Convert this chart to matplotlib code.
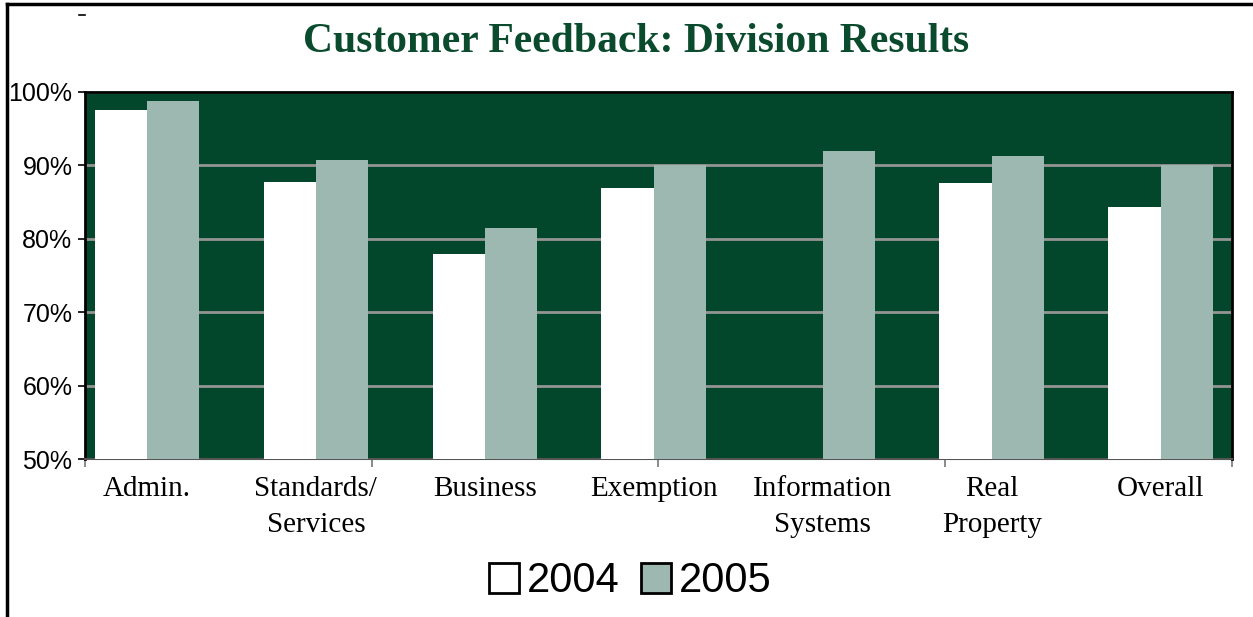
import matplotlib.pyplot as plt
from matplotlib.lines import Line2D
import numpy as np

# Data
categories = ["Admin.", "Standards/\nServices", "Business", "Exemption",
              "Information\nSystems", "Real\nProperty", "Overall"]
values_2004 = [97.6, 87.7, 77.9, 86.9, np.nan, 87.6, 84.3]
values_2005 = [98.8, 90.7, 81.5, 90.1, 92.0, 91.3, 90.0]
y_ticks = [50, 60, 70, 80, 90, 100]

# Colours
bg_green = "#02472c"
title_green = "#0a4a2d"
light_green = "#9db8b0"

# Creating the figure
fig = plt.figure(figsize=(12.53, 6.17), dpi=100)
ax = fig.add_axes([0.0678, 0.256, 0.9152, 0.595])
ax.set_facecolor(bg_green)

x = np.arange(len(categories))
width = 0.31
ax.bar(x - width / 2, values_2004, width, color="white", label="2004", zorder=3)
ax.bar(x + width / 2, values_2005, width, color=light_green, label="2005", zorder=3)

# Axis limits and grid
ax.set_ylim(50, 100)
ax.set_xlim(-0.367, 6.42)
ax.set_yticks(y_ticks)
ax.set_yticklabels(["%d%%" % v for v in y_ticks], fontsize=18, family="Liberation Sans")
ax.yaxis.grid(True, color="#949494", linewidth=2, zorder=1)
ax.set_axisbelow(True)
ax.tick_params(axis="y", length=5, width=1.2, pad=4, color="black")

ax.set_xticks(x)
ax.set_xticklabels(categories, fontsize=21, family="Liberation Serif", linespacing=1.5)
ax.tick_params(axis="x", which="major", length=0, pad=12)
ax.set_xticks(np.linspace(-0.367, 6.42, 5), minor=True)
ax.tick_params(axis="x", which="minor", length=6, width=1.2, color="#777777")

# Spines
for side in ["top", "right", "left"]:
    ax.spines[side].set_color("black")
    ax.spines[side].set_linewidth(2)
ax.spines["bottom"].set_color("#555555")
ax.spines["bottom"].set_linewidth(1.5)

# Stray tick above the axis
ax.add_line(Line2D([-0.005, 0.0], [1.21, 1.21], transform=ax.transAxes,
                   color="black", linewidth=1.2, clip_on=False))

# Title
fig.text(0.508, 0.932, "Customer Feedback: Division Results", ha="center", va="center",
         fontsize=30, fontweight="bold", family="Liberation Serif", color=title_green)

# Legend
leg = fig.legend(loc="center", bbox_to_anchor=(0.503, 0.058), ncol=2, frameon=False,
                 prop={"family": "Liberation Sans", "size": 30},
                 handlelength=0.72, handleheight=0.72, handletextpad=0.2,
                 columnspacing=0.5)
for patch in leg.get_patches():
    patch.set_edgecolor("black")
    patch.set_linewidth(2)

# Page frame
fig.add_artist(Line2D([0.0056, 0.0056], [0.0, 0.994], color="black", linewidth=2.5))
fig.add_artist(Line2D([0.0056, 1.0], [0.994, 0.994], color="black", linewidth=2.5))

plt.savefig("out.png")
plt.close()
